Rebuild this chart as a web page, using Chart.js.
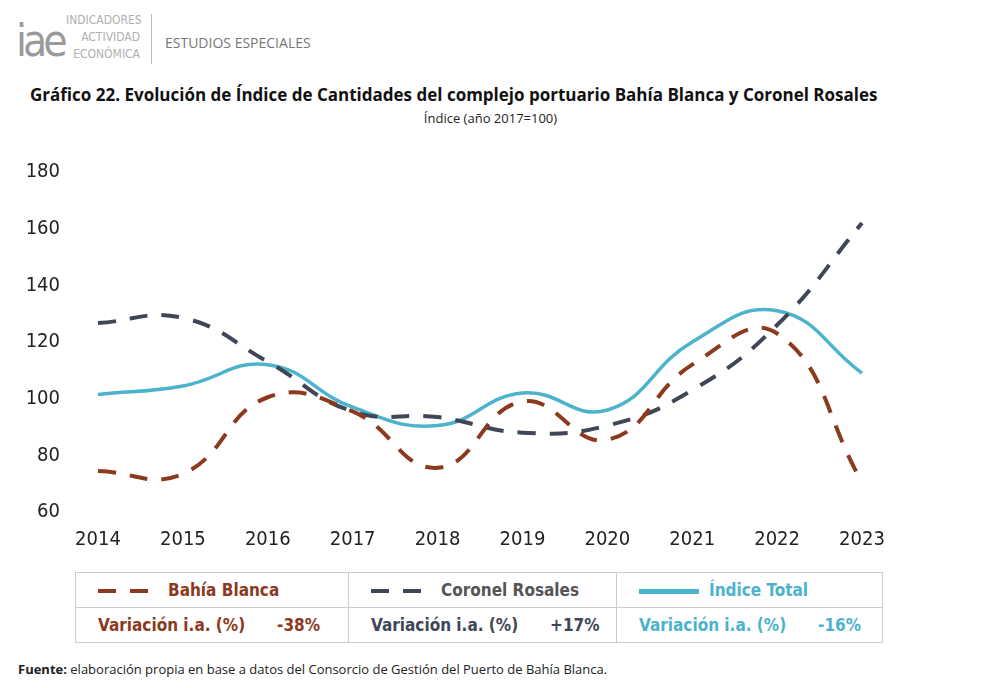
<!DOCTYPE html>
<html><head><meta charset="utf-8">
<script src="https://cdn.jsdelivr.net/npm/chart.js@4"></script>
<style>
body{margin:0;width:981px;height:688px;background:#fff;font-family:"Open Sans","Noto Sans",sans-serif;position:relative;overflow:hidden}
.logo{position:absolute;left:16px;top:16px;font-size:44px;color:#9a9a9a;font-family:"DejaVu Sans Condensed","Noto Sans";letter-spacing:-4px;line-height:50px}
.sub{position:absolute;left:66px;top:12px;font-size:12px;color:#b0b0b0;text-align:right;line-height:17px;width:74px;font-family:"DejaVu Sans Condensed"}
.bar{position:absolute;left:151px;top:14px;width:1px;height:50px;background:#bbb}
.est{position:absolute;left:165px;top:33px;font-size:14px;color:#777}
h1{position:absolute;left:30px;top:83px;margin:0;font-size:17px;font-weight:bold;color:#111}
.idx{position:absolute;left:0;width:981px;top:109px;text-align:center;font-size:13px;color:#222}
#wrap{position:absolute;left:0;top:130px;width:900px;height:430px}
table{position:absolute;left:75px;top:572px;width:808px;border-collapse:collapse;font-family:"DejaVu Sans Condensed","Liberation Sans Narrow",sans-serif;font-weight:bold;font-size:17px}
td{border:1px solid #ccc;height:34px;padding:0 0 0 22px}
.foot{position:absolute;left:18px;top:660px;font-size:13px;color:#222}
.d{display:inline-block;vertical-align:middle;margin-right:10px;width:60px;height:4px}
</style></head><body>
<div class="logo">iae</div>
<div class="sub">INDICADORES<br>ACTIVIDAD<br>ECONÓMICA</div>
<div class="bar"></div>
<div class="est">ESTUDIOS ESPECIALES</div>
<h1>Gráfico 22. Evolución de Índice de Cantidades del complejo portuario Bahía Blanca y Coronel Rosales</h1>
<div class="idx">Índice (año 2017=100)</div>
<div id="wrap"><canvas id="c" width="900" height="430"></canvas></div>
<table>
<tr><td style="color:#8b3a1e;width:250px"><span class="d" style="background:repeating-linear-gradient(90deg,#8b3a1e 0 18px,transparent 18px 32px)"></span>Bahía Blanca</td>
<td style="color:#555;width:245px"><span class="d" style="background:repeating-linear-gradient(90deg,#3f4656 0 18px,transparent 18px 32px)"></span>Coronel Rosales</td>
<td style="color:#4bb3cc"><span class="d" style="background:#4bb3cc;height:5px"></span>Índice Total</td></tr>
<tr><td style="color:#8b3a1e">Variación i.a. (%) &nbsp;&nbsp;&nbsp;&nbsp; -38%</td>
<td style="color:#3f4656">Variación i.a. (%) &nbsp;&nbsp;&nbsp;&nbsp; +17%</td>
<td style="color:#4bb3cc">Variación i.a. (%) &nbsp;&nbsp;&nbsp;&nbsp; -16%</td></tr>
</table>
<div class="foot"><b>Fuente:</b> elaboración propia en base a datos del Consorcio de Gestión del Puerto de Bahía Blanca.</div>
<script>
const years = ['2014','2015','2016','2017','2018','2019','2020','2021','2022','2023'];
const bahiaBlanca = [74.5, 73.5, 100.5, 95.5, 75.6, 99, 85.5, 112, 123, 70.5];
const coronelRosales = [126.7, 128.5, 113, 95.5, 93.5, 88, 90.5, 103, 126, 162];
const indiceTotal = [101.5, 104.5, 112, 97, 90.5, 102, 96, 120, 131, 109];
const yTicks = [60, 80, 100, 120, 140, 160, 180];

new Chart(document.getElementById('c'), {
  type: 'line',
  data: {
    labels: years,
    datasets: [
      {label:'Bahía Blanca', data:bahiaBlanca, borderColor:'#8b3a1e', borderWidth:4, borderDash:[18,14], tension:0.45, pointRadius:0, fill:false},
      {label:'Coronel Rosales', data:coronelRosales, borderColor:'#3f4656', borderWidth:4, borderDash:[18,14], tension:0.45, pointRadius:0, fill:false},
      {label:'Índice Total', data:indiceTotal, borderColor:'#4bb3cc', borderWidth:3.5, tension:0.45, pointRadius:0, fill:false}
    ]
  },
  options: {
    responsive:false, animation:false,
    layout:{padding:{top:8,right:38}},
    plugins:{legend:{display:false},tooltip:{enabled:false}},
    scales:{
      x:{offset:false, grid:{display:false}, border:{display:false},
         ticks:{color:'#222', font:{size:20, family:'DejaVu Sans Condensed'}, padding:8},
         afterFit(s){s.height=48;}},
      y:{min:60, max:180, grid:{display:false}, border:{display:false},
         afterBuildTicks(s){s.ticks = yTicks.map(v=>({value:v}));},
         ticks:{color:'#222', font:{size:20, family:'DejaVu Sans Condensed'}, padding:30},
         afterFit(s){s.width=98;}}
    }
  }
});
</script>
</body></html>
